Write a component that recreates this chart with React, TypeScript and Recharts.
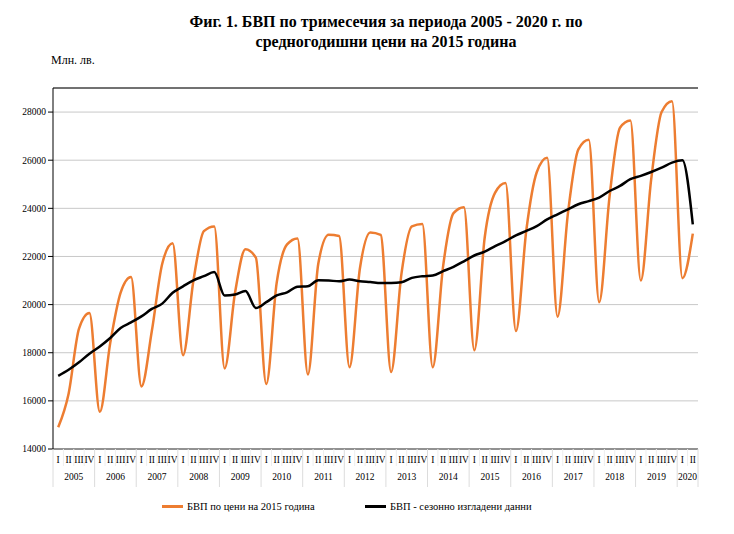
import React from 'react';
import { LineChart, Line, XAxis, YAxis, CartesianGrid, ReferenceLine, Legend } from 'recharts';

const years = ['2005', '2006', '2007', '2008', '2009', '2010', '2011', '2012', '2013', '2014', '2015', '2016', '2017', '2018', '2019', '2020'];
const quarters = ['I', 'II', 'III', 'IV'];
const seriesNames = ['БВП по цени на 2015 година', 'БВП - сезонно изгладени данни'];

// БВП по цени на 2015 година, млн. лв.
const gdp = [
  14900, 16300, 19000, 19650,
  15550, 18400, 20500, 21150,
  16600, 18900, 21700, 22550,
  17900, 21000, 23050, 23250,
  17350, 20500, 22300, 21950,
  16700, 20900, 22500, 22750,
  17100, 21700, 22900, 22850,
  17400, 21500, 23000, 22900,
  17200, 21300, 23250, 23350,
  17400, 21600, 23800, 24050,
  18100, 22800, 24650, 25050,
  18900, 23100, 25500, 26100,
  19500, 23800, 26450, 26850,
  20100, 24500, 27350, 27650,
  21000, 25200, 28000, 28450,
  21100, 22950,
];

// БВП - сезонно изгладени данни
const gdpSmoothed = [
  17040, 17290, 17600, 17960,
  18260, 18610, 19030, 19260,
  19510, 19820, 20040, 20490,
  20760, 21010, 21180, 21350,
  20380, 20420, 20560, 19860,
  20100, 20380, 20510, 20740,
  20760, 21010, 21000, 20970,
  21040, 20970, 20940, 20900,
  20900, 20930, 21110, 21180,
  21210, 21390, 21570, 21800,
  22040, 22200, 22430, 22640,
  22880, 23060, 23260, 23540,
  23750, 23960, 24170, 24300,
  24450, 24720, 24930, 25210,
  25350, 25510, 25690, 25900,
  26000, 23330,
];

const yTicks = [14000, 16000, 18000, 20000, 22000, 24000, 26000, 28000];
const yDomain = [14000, 29000];

const chartData = gdp.map((v, i) => ({
  key: `${years[Math.floor(i / 4)]}-${quarters[i % 4]}`,
  year: years[Math.floor(i / 4)],
  quarter: quarters[i % 4],
  gdp: v,
  sa: gdpSmoothed[i],
}));

const W = 734;
const H = 534;
const LEGEND_H = 12;
const M = { top: 88, right: 36, bottom: 45 - LEGEND_H, left: 0 };
const Y_AXIS_W = 53;
const BAND = (W - M.right - M.left - Y_AXIS_W) / chartData.length;
const FONT = '"Liberation Serif", "Times New Roman", serif';

const QuarterTick = (props: any) => {
  const { x, y, payload } = props;
  const idx = chartData.findIndex((d) => d.key === payload.value);
  if (idx < 0) return null;
  const row = chartData[idx];
  const half = payload.offset || BAND / 2;
  const isFirst = row.quarter === 'I';
  const isLast = idx === chartData.length - 1;
  const count = chartData.filter((d) => d.year === row.year).length;
  return (
    <g>
      {isFirst ? (
        <line x1={x - half} y1={y} x2={x - half} y2={y + 38} stroke="#dcdcdc" />
      ) : (
        <line x1={x - half} y1={y} x2={x - half} y2={y + 17} stroke="#eeeeee" />
      )}
      {isLast && <line x1={x + half} y1={y} x2={x + half} y2={y + 38} stroke="#dcdcdc" />}
      <text x={x} y={y + 14} textAnchor="middle" fontSize={9.5} fontFamily={FONT} fill="#000">
        {row.quarter}
      </text>
      {isFirst && (
        <text x={x + (count - 1) * half} y={y + 31} textAnchor="middle" fontSize={9.5} fontFamily={FONT} fill="#000">
          {row.year}
        </text>
      )}
    </g>
  );
};

const renderLegend = (props: any) => {
  const items = [...(props.payload || [])].sort(
    (a: any, b: any) => seriesNames.indexOf(a.value) - seriesNames.indexOf(b.value)
  );
  return (
    <div style={{ display: 'flex', height: LEGEND_H, fontFamily: FONT, fontSize: 10.5, color: '#000' }}>
      {items.map((p: any) => (
        <div key={p.value} style={{ width: 203, display: 'flex', alignItems: 'center' }}>
          <span style={{ display: 'inline-block', width: 21, height: 3, background: p.color, marginRight: 4 }} />
          <span>{p.value}</span>
        </div>
      ))}
    </div>
  );
};

export default function App() {
  return (
    <div style={{ position: 'relative', width: W, height: H, background: '#fff' }}>
      <style>{'body{margin:0}'}</style>
      <div
        style={{
          position: 'absolute',
          left: 0,
          top: 12,
          width: 772,
          textAlign: 'center',
          fontFamily: FONT,
          fontWeight: 'bold',
          fontSize: 16,
          lineHeight: '20px',
          color: '#000',
        }}
      >
        Фиг. 1. БВП по тримесечия за периода 2005 - 2020 г. по
        <br />
        средногодишни цени на 2015 година
      </div>
      <div style={{ position: 'absolute', left: 51, top: 53, fontFamily: FONT, fontSize: 12, color: '#000' }}>
        Млн. лв.
      </div>
      <LineChart width={W} height={H} data={chartData} margin={M}>
        <CartesianGrid vertical={false} stroke="#c8c8c8" />
        <XAxis
          dataKey="key"
          interval={0}
          tickSize={0}
          tickMargin={0}
          padding={{ left: BAND / 2, right: BAND / 2 }}
          tick={<QuarterTick />}
          axisLine={{ stroke: '#404040' }}
          tickLine={false}
          height={40}
        />
        <YAxis
          domain={yDomain}
          ticks={yTicks}
          width={Y_AXIS_W}
          tickSize={5}
          tickMargin={2}
          axisLine={{ stroke: '#000' }}
          tickLine={{ stroke: '#000' }}
          tick={{ fontSize: 9.5, fontFamily: FONT, fill: '#000' }}
          allowDataOverflow
        />
        <YAxis yAxisId="frame" orientation="right" width={0} tick={false} tickLine={false} axisLine={{ stroke: '#808080' }} />
        <ReferenceLine y={yDomain[1]} stroke="#000" />
        <Legend
          verticalAlign="bottom"
          content={renderLegend}
          wrapperStyle={{ position: 'absolute', left: 162, top: 500, width: 420, bottom: 'auto' }}
        />
        <Line
          name={seriesNames[0]}
          dataKey="gdp"
          type="monotone"
          stroke="#ED7D31"
          strokeWidth={2.5}
          dot={false}
          activeDot={false}
          isAnimationActive={false}
        />
        <Line
          name={seriesNames[1]}
          dataKey="sa"
          type="monotone"
          stroke="#000"
          strokeWidth={2.5}
          dot={false}
          activeDot={false}
          isAnimationActive={false}
        />
      </LineChart>
    </div>
  );
}
